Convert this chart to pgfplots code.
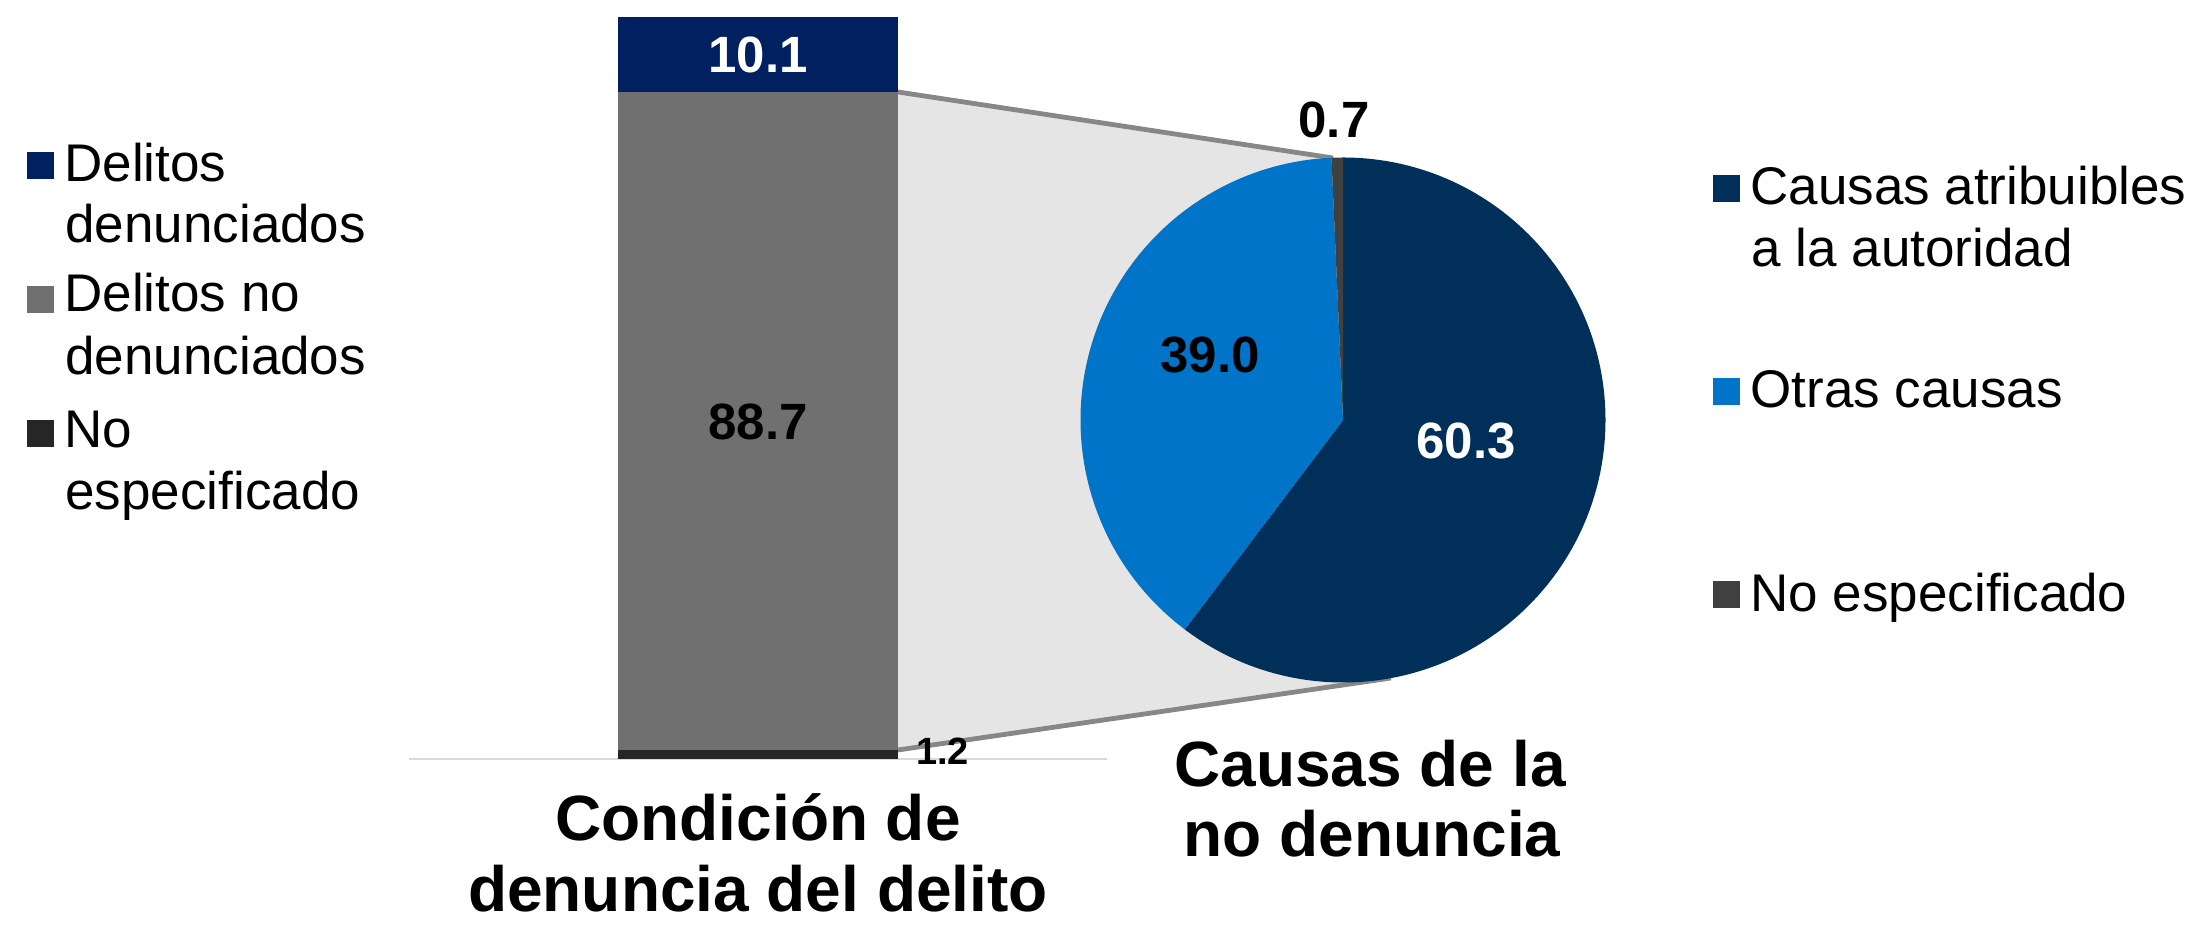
\documentclass[border=0pt]{standalone}
\usepackage{pgfplots}
\pgfplotsset{compat=1.18}
\usepackage{pgfplotstable}
\usepackage{fontspec}
\setmainfont{Liberation Sans}

\definecolor{cDen}{HTML}{002060}
\definecolor{cNoDen}{HTML}{707070}
\definecolor{cNoEsp}{HTML}{262626}
\definecolor{cAtrib}{HTML}{00305A}
\definecolor{cOtras}{HTML}{0074C8}
\definecolor{cPieNE}{HTML}{404040}
\definecolor{cFill}{HTML}{E5E5E5}
\definecolor{cLine}{HTML}{878787}
\definecolor{cAxis}{HTML}{D9D9D9}

\pgfplotstableread{
cat noesp noden den
0 1.2 88.7 10.1
}\bartable

\pgfplotstableread{
slice value
atrib 60.3
otras 39.0
noesp 0.7
}\pietable

\newcommand\LegFont{\fontsize{26.5pt}{31pt}\selectfont}
\newcommand\LabFont{\fontsize{25.5pt}{30pt}\selectfont\bfseries}
\newcommand\TitFont{\fontsize{32pt}{36pt}\selectfont\bfseries}

\begin{document}
\begin{tikzpicture}
\path[use as bounding box] (0,0) rectangle (1098.5pt,462.5pt);

% pie angles from the data
\pgfplotstablegetelem{0}{value}\of\pietable\let\vA\pgfplotsretval
\pgfplotstablegetelem{1}{value}\of\pietable\let\vB\pgfplotsretval
\pgfplotstablegetelem{2}{value}\of\pietable\let\vC\pgfplotsretval
\pgfmathsetmacro\aA{90}
\pgfmathsetmacro\aB{\aA-3.6*\vA}
\pgfmathsetmacro\aC{\aB-3.6*\vB}
\pgfmathsetmacro\aD{\aC-3.6*\vC}

\begin{scope}[x=0.5pt,y=-0.5pt,yshift=462.5pt]
  % connector area and lines
  \fill[cFill] (898,92) -- (1333,158) -- (1391,678) -- (898,750) -- cycle;
  \draw[cLine, line width=2.4pt] (898,92) -- (1333,158);
  \draw[cLine, line width=2.4pt] (898,750) -- (1391,678);

  % left legend
  \fill[cDen]   (27,152) rectangle (54,179);
  \fill[cNoDen] (27,286) rectangle (54,313);
  \fill[cNoEsp] (27,420) rectangle (54,447);
  \node[anchor=base west, inner sep=0, font=\LegFont] at (64,182) {Delitos};
  \node[anchor=base west, inner sep=0, font=\LegFont] at (65,243) {denunciados};
  \node[anchor=base west, inner sep=0, font=\LegFont] at (64,312) {Delitos no};
  \node[anchor=base west, inner sep=0, font=\LegFont] at (65,375) {denunciados};
  \node[anchor=base west, inner sep=0, font=\LegFont] at (64,448) {No};
  \node[anchor=base west, inner sep=0, font=\LegFont] at (65,510) {especificado};

  % right legend
  \fill[cAtrib] (1713,175) rectangle (1740,202);
  \fill[cOtras] (1713,378) rectangle (1740,405);
  \fill[cPieNE] (1713,581) rectangle (1740,608);
  \node[anchor=base west, inner sep=0, font=\LegFont] at (1750,205) {Causas atribuibles};
  \node[anchor=base west, inner sep=0, font=\LegFont] at (1751,267) {a la autoridad};
  \node[anchor=base west, inner sep=0, font=\LegFont] at (1750,408) {Otras causas};
  \node[anchor=base west, inner sep=0, font=\LegFont] at (1750,612) {No especificado};

  % titles
  \node[anchor=base, inner sep=0, font=\TitFont] at (758,841) {Condición de};
  \node[anchor=base, inner sep=0, font=\TitFont] at (758,912) {denuncia del delito};
  \node[anchor=base, inner sep=0, font=\TitFont] at (1370,787) {Causas de la};
  \node[anchor=base, inner sep=0, font=\TitFont] at (1372,857) {no denuncia};
\end{scope}

% stacked bar
\begin{axis}[at={(204.5pt,83pt)}, anchor=south west, scale only axis,
  width=349pt, height=371pt, xmin=-1, xmax=1, ymin=0, ymax=100,
  enlargelimits=false, ybar stacked, bar width=140pt,
  axis x line=bottom, axis y line=none, xtick=\empty, ytick=\empty,
  x axis line style={draw=cAxis, line width=1.25pt, -}, clip=false]
  \addplot[fill=cNoEsp, draw=none] table[x=cat, y=noesp] {\bartable};
  \addplot[fill=cNoDen, draw=none] table[x=cat, y=noden] {\bartable};
  \addplot[fill=cDen, draw=none] table[x=cat, y=den] {\bartable};
  \coordinate (lDen) at (axis cs:0,94.95);
  \coordinate (lNoDen) at (axis cs:0,45.4);
  \coordinate (lNoEsp) at (axis cs:0.529,1.0);
\end{axis}
\node[font=\LabFont, text=white] at (lDen) {10.1};
\node[font=\LabFont] at (lNoDen) {88.7};
\node[font={\fontsize{19pt}{22pt}\selectfont\bfseries}] at (lNoEsp) {1.2};

% pie
\begin{axis}[at={(540.25pt,121.25pt)}, anchor=south west, scale only axis,
  width=262.5pt, height=262.5pt, xmin=-1, xmax=1, ymin=-1, ymax=1,
  hide axis, clip=false]
  \fill[cAtrib] (axis cs:0,0) -- (axis cs:{cos(\aA)},{sin(\aA)}) arc[start angle=\aA, end angle=\aB, radius=131.25pt] -- cycle;
  \fill[cOtras] (axis cs:0,0) -- (axis cs:{cos(\aB)},{sin(\aB)}) arc[start angle=\aB, end angle=\aC, radius=131.25pt] -- cycle;
  \fill[cPieNE] (axis cs:0,0) -- (axis cs:{cos(\aC)},{sin(\aC)}) arc[start angle=\aC, end angle=\aD, radius=131.25pt] -- cycle;
  \node[font=\LabFont, text=white] at (axis cs:0.469,-0.08) {60.3};
  \node[font=\LabFont] at (axis cs:-0.507,0.248) {39.0};
  \node[font=\LabFont] at (axis cs:-0.034,1.143) {0.7};
\end{axis}
\end{tikzpicture}
\end{document}
